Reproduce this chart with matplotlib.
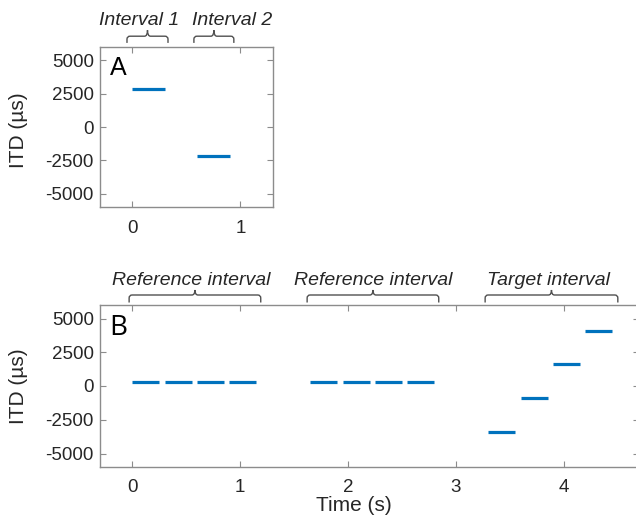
import matplotlib
matplotlib.use("Agg")
import matplotlib.pyplot as plt
from matplotlib.path import Path
from matplotlib.patches import PathPatch
from matplotlib.transforms import IdentityTransform, blended_transform_factory

plt.rcParams['font.family'] = ['Liberation Sans', 'DejaVu Sans']
plt.rcParams['axes.unicode_minus'] = False

# panel A: two intervals
a_start = [0.0, 0.6]
a_end = [0.3, 0.9]
a_itd = [2850, -2200]
a_brackets = [(-0.05, 0.33), (0.57, 0.94)]
a_labels = ["Interval 1", "Interval 2"]
a_label_x = [0.06, 0.925]

# panel B: reference, reference, target
b_start = [0.0, 0.3, 0.6, 0.9, 1.65, 1.95, 2.25, 2.55, 3.3, 3.6, 3.9, 4.2]
b_end = [0.25, 0.55, 0.85, 1.15, 1.9, 2.2, 2.5, 2.8, 3.55, 3.85, 4.15, 4.45]
b_itd = [300, 300, 300, 300, 300, 300, 300, 300, -3400, -900, 1600, 4100]
b_brackets = [(-0.03, 1.19), (1.62, 2.84), (3.27, 4.5)]
b_labels = ["Reference interval", "Reference interval", "Target interval"]
b_label_x = [0.55, 2.23, 3.86]

yticks = [-5000, -2500, 0, 2500, 5000]
blue = '#0072BD'
spine_col = '#8c8c8c'
text_col = '#262626'

fig = plt.figure(figsize=(6.36, 5.19), dpi=100)
axA = fig.add_axes([100/636, 1-207.3/519, 172.7/636, 160.6/519])
axB = fig.add_axes([100/636, 1-467/519, 539.4/636, 162/519])


def style(ax):
    for s in ax.spines.values():
        s.set_color(spine_col)
        s.set_linewidth(1.0)
    ax.tick_params(direction='in', length=4, width=0.8, color=spine_col,
                   labelcolor=text_col, labelsize=13.5, top=True, right=True)
    ax.tick_params(axis='x', pad=9)
    ax.tick_params(axis='y', pad=4.5)
    ax.set_ylim(-6000, 6000)
    ax.set_yticks(yticks)
    ax.set_ylabel("ITD (\u00b5s)", fontsize=15, color=text_col)


def bracket(ax, x0, x1, up, drop, cusp):
    px0 = ax.transData.transform((x0, 0))[0]
    px1 = ax.transData.transform((x1, 0))[0]
    xc = (px0 + px1) / 2
    top = ax.transAxes.transform((0, 1))[1]
    h = top + up
    r = 3
    verts = [(px0, h - drop), (px0, h - r), (px0, h), (px0 + r, h),
             (xc - r, h), (xc, h), (xc, h + cusp),
             (xc, h), (xc + r, h),
             (px1 - r, h), (px1, h), (px1, h - r), (px1, h - drop)]
    codes = [Path.MOVETO, Path.LINETO, Path.CURVE3, Path.CURVE3,
             Path.LINETO, Path.CURVE3, Path.CURVE3,
             Path.CURVE3, Path.CURVE3,
             Path.LINETO, Path.CURVE3, Path.CURVE3, Path.LINETO]
    patch = PathPatch(Path(verts, codes), fill=False, edgecolor='#505050',
                      linewidth=1.0, transform=IdentityTransform(), clip_on=False)
    fig.add_artist(patch)


# panel A
style(axA)
axA.set_xlim(-0.3, 1.3)
axA.set_xticks([0, 1])
axA.hlines(a_itd, a_start, a_end, colors=blue, linewidth=2.3)
axA.yaxis.set_label_coords(-0.417, 0.48)
axA.text(0.058, 0.824, "A", transform=axA.transAxes, fontsize=18,
         color='black', va='baseline', ha='left')
transA = blended_transform_factory(axA.transData, axA.transAxes)
for (x0, x1), lab, lx in zip(a_brackets, a_labels, a_label_x):
    bracket(axA, x0, x1, 10.5, 6.7, 6)
    axA.text(lx, 1.166, lab, transform=transA, fontsize=14, style='italic',
             color=text_col, ha='center', va='center')

# panel B
style(axB)
axB.set_xlim(-0.3, 4.7)
axB.set_xticks([0, 1, 2, 3, 4])
axB.hlines(b_itd, b_start, b_end, colors=blue, linewidth=2.3)
axB.yaxis.set_label_coords(-0.1335, 0.5)
axB.set_xlabel("Time (s)", fontsize=15, color=text_col)
axB.xaxis.set_label_coords(0.47, -0.179)
axB.text(0.0172, 0.815, "B", transform=axB.transAxes, fontsize=20,
         family='Open Sans', color='black', va='baseline', ha='left')
transB = blended_transform_factory(axB.transData, axB.transAxes)
for (x0, x1), lab, lx in zip(b_brackets, b_labels, b_label_x):
    bracket(axB, x0, x1, 10, 7.5, 5)
    axB.text(lx, 1.150, lab, transform=transB, fontsize=14, style='italic',
             color=text_col, ha='center', va='center')

fig.savefig("out.png", dpi=100)
